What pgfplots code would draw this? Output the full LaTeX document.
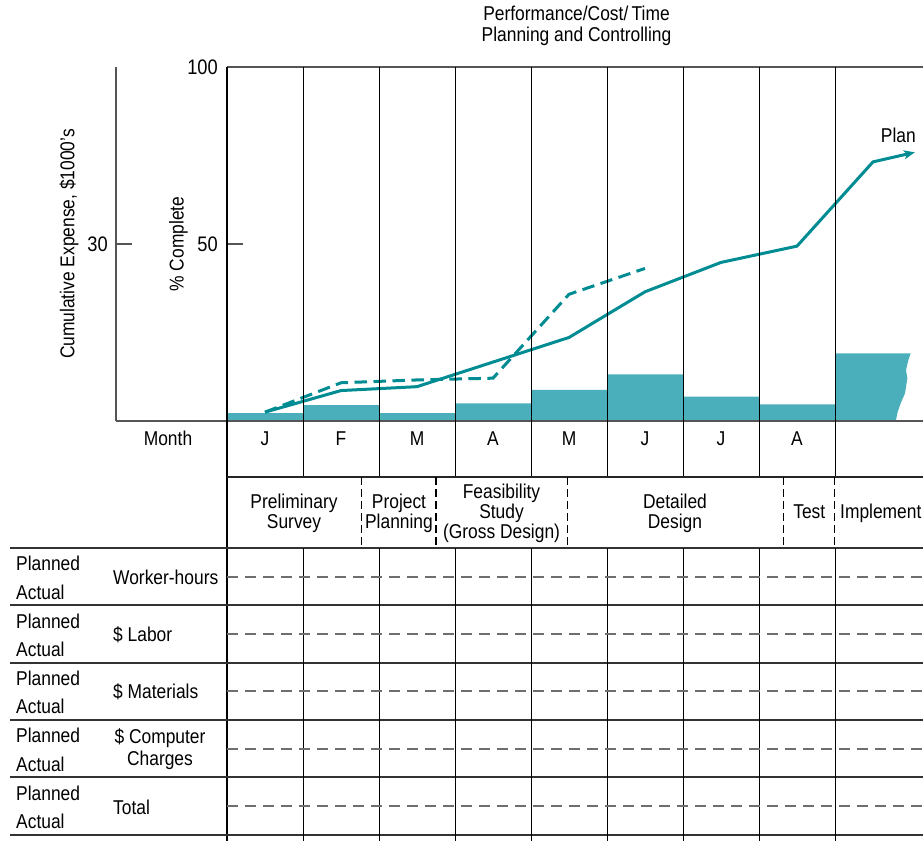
\documentclass[border=0pt]{standalone}
\usepackage{pgfplots}
\pgfplotsset{compat=1.18}
\usepackage{fontspec}
\setmainfont{Liberation Sans}[FakeStretch=0.87]
\usetikzlibrary{arrows.meta}
\definecolor{barteal}{RGB}{75,175,187}
\definecolor{lineteal}{RGB}{0,140,146}
\definecolor{axgray}{RGB}{85,85,85}
\definecolor{dashgray}{RGB}{110,110,110}
\newcommand{\tf}{\fontsize{20}{22}\selectfont}
\begin{document}
\begin{tikzpicture}
\path[use as bounding box] (0pt,0pt) rectangle (923pt,-841pt);
\clip (0pt,0pt) rectangle (923pt,-841pt);

% left (cumulative expense) axis
\begin{axis}[
  at={(116pt,-421pt)}, anchor=south west,
  scale only axis, width=111pt, height=354pt,
  xmin=0, xmax=1, ymin=0, ymax=60,
  axis x line*=bottom, axis y line*=left,
  axis line style={-, axgray, line width=1.6pt},
  xtick=\empty, ytick={30},
  tick align=inside, major tick length=16pt,
  y tick style={axgray, line width=1.2pt},
  /pgf/number format/assume math mode=true,
  yticklabel style={font=\fontsize{21}{21}\selectfont, anchor=east, inner sep=0pt, xshift=-8pt},
  ylabel={Cumulative Expense, \$1000's},
  ylabel style={font=\tf, at={(axis description cs:-0.4234,0.5)}, anchor=center},
]
\end{axis}

% main (% complete) axis
\begin{axis}[
  at={(227pt,-421pt)}, anchor=south west,
  scale only axis, width=696pt, height=354pt,
  xmin=0, xmax=9.1579, ymin=0, ymax=100,
  clip=false, axis on top,
  axis x line*=bottom, axis y line*=left,
  x axis line style={-, axgray, line width=1.6pt},
  y axis line style={-, black, line width=1.1pt},
  xtick={0.5,1.5,2.5,3.5,4.5,5.5,6.5,7.5},
  xticklabels={J,F,M,A,M,J,J,A},
  x tick style={draw=none},
  xticklabel style={font=\tf, anchor=base, yshift=-24pt},
  extra x ticks={1,2,3,4,5,6,7,8},
  extra x tick labels={},
  extra x tick style={grid=major, major grid style={black, line width=1pt}, tick style={draw=none}},
  ytick={50,100},
  tick align=inside, major tick length=16pt,
  y tick style={axgray, line width=1.2pt},
  /pgf/number format/assume math mode=true,
  yticklabel style={font=\fontsize{21}{21}\selectfont, anchor=east, inner sep=0pt, xshift=-9pt},
  ylabel={\% Complete},
  ylabel style={font=\tf, at={(axis description cs:-0.0697,0.5)}, anchor=center},
]
% monthly expense bars
\addplot[ybar interval, fill=barteal, draw=none] coordinates {
  (0,2.2) (1,4.5) (2,2.2) (3,5.0) (4,8.8) (5,13.2) (6,6.9) (7,4.7) (8,4.7)
};
% implement bar (torn edge)
\addplot[fill=barteal, draw=none] coordinates {
  (8,0) (8,19.1) (8.996,19.1) (8.965,17.2) (8.934,14.4) (8.952,12.1)
  (8.921,7.8) (8.864,5.0) (8.825,2.6) (8.799,0)
} \closedcycle;
% plan
\addplot[lineteal, line width=3pt, -{Stealth[length=11pt, width=9pt, inset=3pt]}] coordinates {
  (0.5,2.5) (1.5,8.6) (2.5,9.7) (4.5,23.6) (5.5,36.5) (6.5,44.8) (7.5,49.4) (8.5,73.2) (9.05,75.9)
};
% actual
\addplot[lineteal, line width=3pt, dash pattern=on 12.5pt off 6.5pt] coordinates {
  (0.5,2.5) (1.5,10.8) (2.5,11.6) (3.5,12.1) (4.5,35.8) (5.5,43.1)
};
\node[font=\tf, anchor=base] at (axis cs:8.833,78.6) {Plan};
\draw[axgray, line width=1.8pt] (axis cs:0,100) -- (axis cs:9.1579,100);
\end{axis}

\begin{scope}[x=1pt,y=1pt]
% title
\node[font=\tf, anchor=base] at (576.5,-20.7) {Performance/Cost/\,Time};
\node[font=\tf, anchor=base] at (576.5,-41.7) {Planning and Controlling};
% month row
\node[font=\tf, anchor=base] at (168,-445) {Month};
\foreach \x in {303,379,...,835} \draw[black, line width=1pt] (\x,-421) -- (\x,-477);
\draw[black, line width=1.1pt] (227,-421) -- (227,-841);
\draw[black!85, line width=1.4pt] (227,-477) -- (923,-477);
% phase row
\foreach \x in {361.7,436,567.3,783.3,834.7}
  \draw[black, line width=1.1pt, dash pattern=on 8pt off 4pt] (\x,-477) -- (\x,-548);
\node[font=\tf, anchor=base] at (294,-508) {Preliminary};
\node[font=\tf, anchor=base] at (294,-528) {Survey};
\node[font=\tf, anchor=base] at (399,-508) {Project};
\node[font=\tf, anchor=base] at (399,-528) {Planning};
\node[font=\tf, anchor=base] at (501.5,-498) {Feasibility};
\node[font=\tf, anchor=base] at (501.5,-518) {Study};
\node[font=\tf, anchor=base] at (501.5,-538) {(Gross Design)};
\node[font=\tf, anchor=base] at (675,-508) {Detailed};
\node[font=\tf, anchor=base] at (675,-528) {Design};
\node[font=\tf, anchor=base] at (809.3,-518.5) {Test};
\node[font=\tf, anchor=base] at (880.8,-518.5) {Implement};
% table rows
\foreach \i in {0,...,5} {
  \pgfmathsetmacro{\yy}{548+57.33*\i}
  \draw[black!80, line width=1.7pt] (10,-\yy) -- (923,-\yy);
}
\foreach \x in {303,379,...,835} \draw[black, line width=1pt] (\x,-548) -- (\x,-841);
\foreach \i in {0,...,4} {
  \pgfmathsetmacro{\yy}{548+28.67+57.33*\i}
  \draw[dashgray, line width=1.7pt, dash pattern=on 11pt off 7pt] (227,-\yy) -- (923,-\yy);
  \pgfmathsetmacro{\yp}{548+22.7+57.33*\i}
  \pgfmathsetmacro{\ya}{548+51.3+57.33*\i}
  \node[font=\tf, anchor=base west, inner sep=0pt] at (16,-\yp) {Planned};
  \node[font=\tf, anchor=base west, inner sep=0pt] at (16,-\ya) {Actual};
}
\node[font=\tf, anchor=base west, inner sep=0pt] at (113,-584) {Worker-hours};
\node[font=\tf, anchor=base west, inner sep=0pt] at (113,-641.3) {\$ Labor};
\node[font=\tf, anchor=base west, inner sep=0pt] at (113,-698.7) {\$ Materials};
\node[font=\tf, anchor=base] at (160,-743.5) {\$ Computer};
\node[font=\tf, anchor=base] at (160,-765) {Charges};
\node[font=\tf, anchor=base west, inner sep=0pt] at (113,-814) {Total};
\end{scope}
\end{tikzpicture}
\end{document}
